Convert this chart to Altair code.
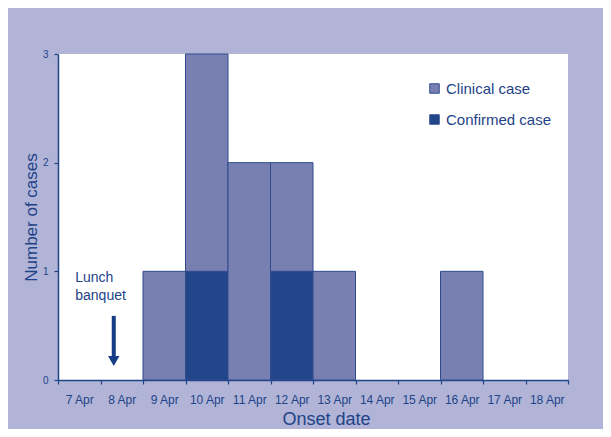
import altair as alt
import pandas as pd

days = ["7 Apr", "8 Apr", "9 Apr", "10 Apr", "11 Apr", "12 Apr",
        "13 Apr", "14 Apr", "15 Apr", "16 Apr", "17 Apr", "18 Apr"]
clinical = [0, 0, 1, 2, 2, 1, 1, 0, 0, 1, 0, 0]   # clinical-only cases (stacked on top)
confirmed = [0, 0, 0, 1, 0, 1, 0, 0, 0, 0, 0, 0]  # confirmed cases (bottom)
case_types = ["Clinical case", "Confirmed case"]
case_colors = ["#7880b1", "#23458a"]

note_lines = ["Lunch", "banquet"]
note_y = [0.94, 0.77]
note_day = "7 Apr"
arrow_day = "8 Apr"
arrow_top = 0.59
arrow_end = 0.2
arrow_head = 0.175

BLUE = "#1e4389"
FONT = "Liberation Sans"

rows = []
for d, cl, co in zip(days, clinical, confirmed):
    if co:
        rows.append({"day": d, "type": "Confirmed case", "n": co, "ord": 0})
    if cl:
        rows.append({"day": d, "type": "Clinical case", "n": cl, "ord": 1})
bars_df = pd.DataFrame(rows)

note_df = pd.DataFrame({"day": [note_day] * len(note_lines), "y": note_y, "t": note_lines})
arrow_df = pd.DataFrame({"day": [arrow_day], "y": [arrow_top], "y2": [arrow_end], "h": [arrow_head]})

xscale = alt.Scale(domain=days, paddingInner=0, paddingOuter=0)
yscale = alt.Scale(domain=[0, 3], nice=False)

bars = alt.Chart(bars_df).mark_bar(stroke="#2e4b8e", strokeWidth=1).encode(
    x=alt.X("day:N", sort=days, scale=xscale,
            axis=alt.Axis(title="Onset date", tickBand="extent", labelAngle=0,
                          labelFontSize=12, labelPadding=10, tickSize=4,
                          titleFontSize=18, titleFontWeight="normal",
                          titleX=268, titleY=30, titleBaseline="top")),
    y=alt.Y("n:Q", stack="zero", scale=yscale,
            axis=alt.Axis(title="Number of cases", values=[0, 1, 2, 3], format="d", grid=False,
                          labelFontSize=10, labelPadding=6, tickSize=4,
                          titleFontSize=17, titleFontWeight="normal",
                          titleX=-27, titleY=163, titleBaseline="middle", titleAngle=270)),
    color=alt.Color("type:N", scale=alt.Scale(domain=case_types, range=case_colors),
                    legend=alt.Legend(title=None, orient="none", legendX=369, legendY=27,
                                      symbolType="square", symbolSize=90,
                                      symbolStrokeColor="#2e4b8e", symbolStrokeWidth=1,
                                      labelFontSize=15, labelOffset=4, rowPadding=15,
                                      labelColor=BLUE, labelFont=FONT, padding=0)),
    order=alt.Order("ord:Q"),
)

notes = alt.Chart(note_df).mark_text(align="left", baseline="middle", dx=-4,
                                     fontSize=14, font=FONT, color=BLUE).encode(
    x=alt.X("day:N", sort=days, scale=xscale),
    y=alt.Y("y:Q", scale=yscale),
    text="t:N",
)

shaft = alt.Chart(arrow_df).mark_rule(strokeWidth=4, color="#163d86", xOffset=-8).encode(
    x=alt.X("day:N", sort=days, scale=xscale),
    y=alt.Y("y:Q", scale=yscale),
    y2="y2:Q",
)

head = alt.Chart(arrow_df).mark_point(shape="triangle-down", filled=True, size=130,
                                      color="#163d86", opacity=1, xOffset=-8).encode(
    x=alt.X("day:N", sort=days, scale=xscale),
    y=alt.Y("h:Q", scale=yscale),
)

chart = alt.layer(bars, notes, shaft, head).properties(
    width=510, height=326,
    background="#b1b4d6",
    padding={"left": 50, "top": 46, "right": 35, "bottom": 49},
    autosize=alt.AutoSizeParams(type="none"),
).configure_view(fill="white", stroke=None).configure_axis(
    domainColor=BLUE, domainWidth=1.5, tickColor=BLUE, tickWidth=1.2,
    labelColor=BLUE, titleColor=BLUE, labelFont=FONT, titleFont=FONT,
)

chart.save("out.html", embed_options={"renderer": "svg", "actions": False})
